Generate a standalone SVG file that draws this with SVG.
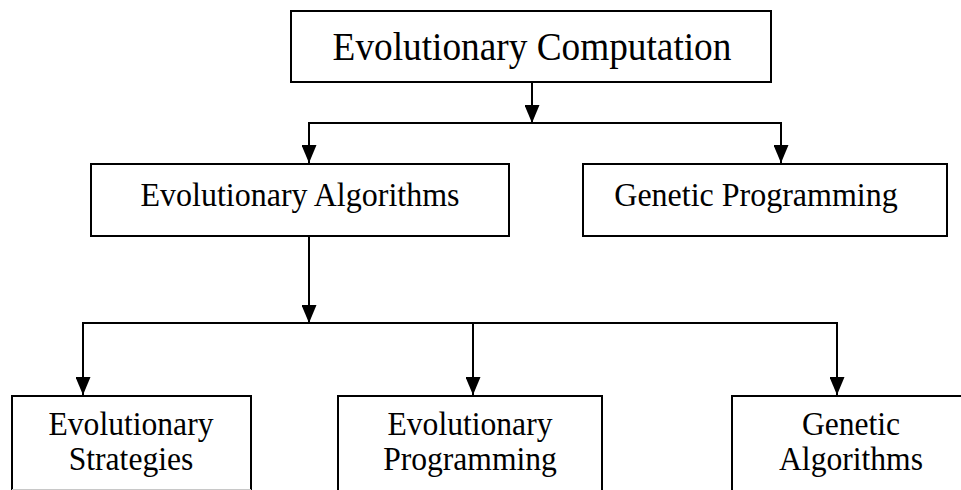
<svg xmlns="http://www.w3.org/2000/svg" width="961" height="490" viewBox="0 0 961 490">
  <style>
    .box { fill: #ffffff; stroke: #000000; stroke-width: 2; }
    .edge { fill: none; stroke: #000000; stroke-width: 2; }
    .lbl { font-family: "Liberation Serif", "Times New Roman", serif; fill: #000000; text-anchor: middle; }
    .l1 { font-size: 37.3px; }
    .l2 { font-size: 32px; }
    .l3 { font-size: 31.6px; }
  </style>
  <defs>
    <marker id="arrow" markerUnits="userSpaceOnUse" viewBox="0 -7.5 18 15" refX="18" refY="0" markerWidth="18" markerHeight="15" orient="auto">
      <path d="M0,-7.5 L18,0 L0,7.5 z" fill="#000000"/>
    </marker>
  </defs>

  <rect width="961" height="490" fill="#ffffff"/>

  <!-- connectors -->
  <g id="connectors">
    <line class="edge" x1="532" y1="82" x2="532" y2="123" marker-end="url(#arrow)"/>
    <polyline class="edge" points="309,163 309,123 781,123 781,163"/>
    <line class="edge" x1="309" y1="124" x2="309" y2="163" marker-end="url(#arrow)"/>
    <line class="edge" x1="781" y1="124" x2="781" y2="163" marker-end="url(#arrow)"/>
    <line class="edge" x1="309" y1="236" x2="309" y2="323" marker-end="url(#arrow)"/>
    <polyline class="edge" points="83,395 83,323 837,323 837,395"/>
    <line class="edge" x1="83" y1="324" x2="83" y2="395" marker-end="url(#arrow)"/>
    <line class="edge" x1="473" y1="323" x2="473" y2="395" marker-end="url(#arrow)"/>
    <line class="edge" x1="837" y1="324" x2="837" y2="395" marker-end="url(#arrow)"/>
  </g>

  <!-- root -->
  <g id="evolutionary-computation">
    <rect class="box" x="291" y="11" width="480" height="71"/>
    <text class="lbl l1" transform="translate(532,59.5) scale(1,1.08)">Evolutionary Computation</text>
  </g>

  <!-- second level -->
  <g id="evolutionary-algorithms">
    <rect class="box" x="91" y="164" width="418" height="72"/>
    <text class="lbl l2" transform="translate(300,206) scale(1,1.08)">Evolutionary Algorithms</text>
  </g>
  <g id="genetic-programming">
    <rect class="box" x="583" y="164" width="364" height="72"/>
    <text class="lbl l2" transform="translate(756,206) scale(1,1.08)">Genetic Programming</text>
  </g>

  <!-- third level (boxes run past the lower edge) -->
  <g id="evolutionary-strategies">
    <rect class="box" x="12" y="396" width="239" height="110"/>
    <line x1="12" y1="489.5" x2="251" y2="489.5" stroke="#c8c8c8" stroke-width="1"/>
    <text class="lbl l3" transform="translate(131,435) scale(1,1.08)">Evolutionary</text>
    <text class="lbl l3" transform="translate(131,470) scale(1,1.08)">Strategies</text>
  </g>
  <g id="evolutionary-programming">
    <rect class="box" x="338" y="396" width="264" height="110"/>
    <text class="lbl l3" transform="translate(470,435) scale(1,1.08)">Evolutionary</text>
    <text class="lbl l3" transform="translate(470,470) scale(1,1.08)">Programming</text>
  </g>
  <g id="genetic-algorithms">
    <rect class="box" x="732" y="396" width="240" height="110"/>
    <text class="lbl l3" transform="translate(851,435) scale(1,1.08)">Genetic</text>
    <text class="lbl l3" transform="translate(851,470) scale(1,1.08)">Algorithms</text>
  </g>
</svg>
